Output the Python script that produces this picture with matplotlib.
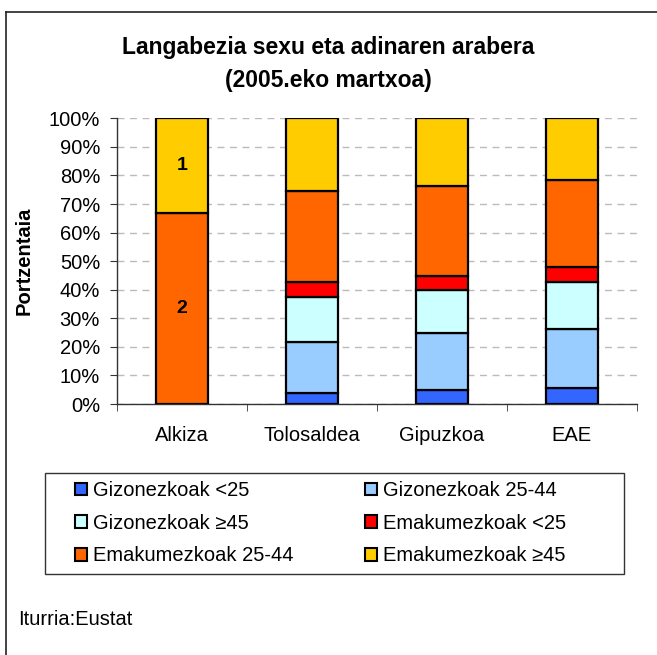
import matplotlib
matplotlib.use("Agg")
import matplotlib.pyplot as plt
from matplotlib.patches import Patch, Rectangle
from matplotlib.ticker import MultipleLocator, FuncFormatter
import numpy as np

plt.rcParams['font.family'] = ['Liberation Sans', 'DejaVu Sans']

categories = ["Alkiza", "Tolosaldea", "Gipuzkoa", "EAE"]
series_names = ["Gizonezkoak <25", "Gizonezkoak 25-44", "Gizonezkoak \u226545",
                "Emakumezkoak <25", "Emakumezkoak 25-44", "Emakumezkoak \u226545"]
g_lt25 = [0.0, 4.0, 4.8, 5.5]
g_25_44 = [0.0, 17.8, 19.9, 20.6]
g_ge45 = [0.0, 15.8, 15.2, 16.7]
e_lt25 = [0.0, 5.0, 4.9, 5.3]
e_25_44 = [66.7, 32.0, 31.4, 30.3]
e_ge45 = [33.3, 25.4, 23.8, 21.6]
colors = ["#3366FF", "#99CCFF", "#CCFFFF", "#FF0000", "#FF6600", "#FFCC00"]
alkiza_labels = {4: "2", 5: "1"}

series = [g_lt25, g_25_44, g_ge45, e_lt25, e_25_44, e_ge45]

W, H = 657, 655
FS = 14.5
fig = plt.figure(figsize=(W / 100, H / 100), dpi=100)

def fx(px):
    return px / W

def fy(py):
    return 1 - py / H

# outer frame (only left and top edges visible in the image)
fig.add_artist(plt.Line2D([fx(5.5), fx(5.5)], [0, fy(12)], transform=fig.transFigure, color="#222222", lw=1.2))
fig.add_artist(plt.Line2D([fx(5.5), 1], [fy(12), fy(12)], transform=fig.transFigure, color="#222222", lw=1.2))

ax = fig.add_axes([fx(116.7), fy(404), 520 / W, 285.7 / H])
x = np.arange(len(categories))
bottom = np.zeros(len(categories))
for i, (vals, c) in enumerate(zip(series, colors)):
    vals = np.array(vals)
    ax.bar(x, vals, bottom=bottom, width=0.4, color=c, edgecolor="black", linewidth=1.6, zorder=3)
    if i in alkiza_labels:
        ax.text(x[0], bottom[0] + vals[0] / 2, alkiza_labels[i], ha="center", va="center",
                fontsize=14, fontweight="bold", zorder=4)
    bottom += vals

ax.set_xlim(-0.5, 3.5)
ax.set_ylim(0, 100)
ax.yaxis.set_major_locator(MultipleLocator(10))
ax.yaxis.set_major_formatter(FuncFormatter(lambda v, p: f"{int(round(v))}%"))
ax.set_xticks(x)
ax.set_xticklabels(categories)
ax.set_xticks(np.arange(-0.5, 3.6, 1), minor=True)
ax.tick_params(axis="x", which="major", length=0, pad=15.5, labelsize=FS)
ax.tick_params(axis="x", which="minor", length=5, direction="out", color="#333333")
ax.tick_params(axis="y", which="major", length=5, direction="out", labelsize=FS, pad=7, color="#333333")
for s in ["top", "right"]:
    ax.spines[s].set_visible(False)
for s in ["left", "bottom"]:
    ax.spines[s].set_color("#333333")
    ax.spines[s].set_linewidth(1.0)
ax.grid(axis="y", linestyle=(0, (5, 4)), color="#BBBBBB", linewidth=1.0, zorder=0)
ax.set_axisbelow(True)
ax.set_ylabel("Portzentaia", fontsize=FS, fontweight="bold")
ax.yaxis.set_label_coords((34 - 116.7) / 520, 0.5)

fig.text(fx(328.5), fy(54), "Langabezia sexu eta adinaren arabera",
         ha="center", va="baseline", fontsize=16.5, fontweight="bold")
fig.text(fx(328.5), fy(86.7), "(2005.eko martxoa)",
         ha="center", va="baseline", fontsize=16.5, fontweight="bold")

# legend frame
fig.add_artist(Rectangle((fx(44.5), fy(574)), (624 - 44.5) / W, (574 - 472.7) / H,
                         transform=fig.transFigure, fill=False, edgecolor="#333333", linewidth=1.0))
handles = [Patch(facecolor=c, edgecolor="black", linewidth=1.5) for c in colors]
order = [0, 2, 4, 1, 3, 5]
leg = fig.legend([handles[i] for i in order], [series_names[i] for i in order], ncol=2,
                 loc="upper left", bbox_to_anchor=(fx(75), fy(481)),
                 frameon=False, fontsize=FS,
                 handlelength=0.6, handleheight=0.6, handletextpad=0.3, labelspacing=0.68,
                 columnspacing=3.55, borderaxespad=0, borderpad=0)

fig.text(fx(18), fy(625), "Iturria:Eustat", ha="left", va="baseline", fontsize=FS)

fig.savefig("out.png", dpi=100)
